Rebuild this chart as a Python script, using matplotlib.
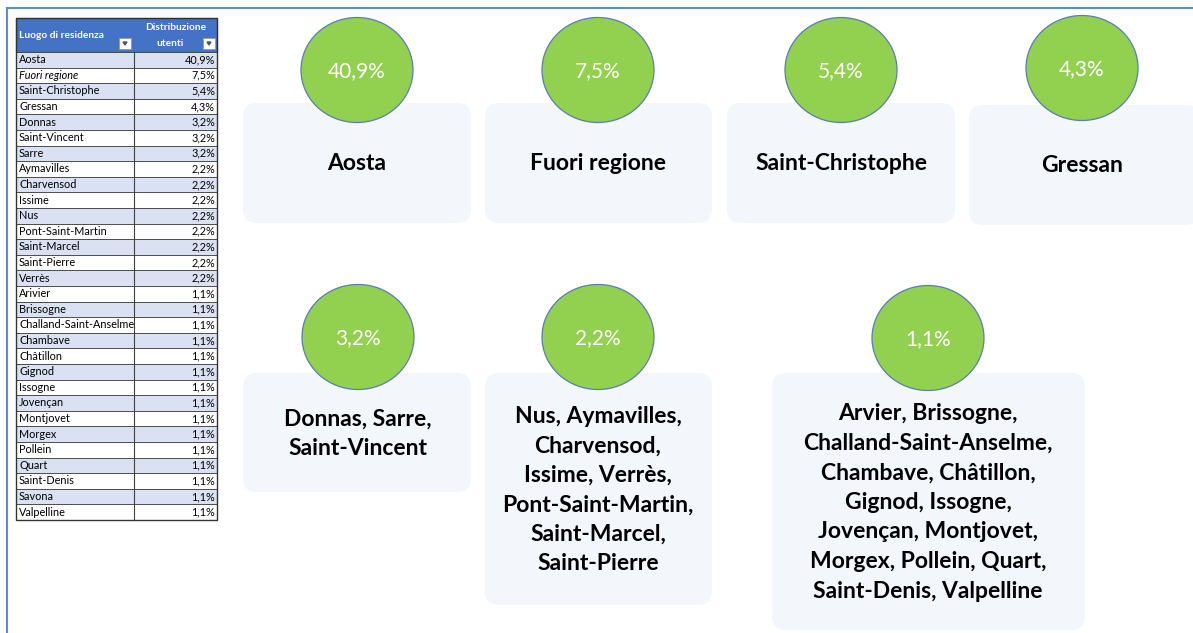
import matplotlib
matplotlib.use('Agg')
import matplotlib.pyplot as plt
from matplotlib.patches import FancyBboxPatch, Ellipse, Rectangle, Polygon

# tabella: luogo di residenza e distribuzione utenti (%)
luoghi = ['Aosta', 'Fuori regione', 'Saint-Christophe', 'Gressan', 'Donnas',
          'Saint-Vincent', 'Sarre', 'Aymavilles', 'Charvensod', 'Issime', 'Nus',
          'Pont-Saint-Martin', 'Saint-Marcel', 'Saint-Pierre', 'Verrès',
          'Arivier', 'Brissogne', 'Challand-Saint-Anselme', 'Chambave',
          'Châtillon', 'Gignod', 'Issogne', 'Jovençan', 'Montjovet', 'Morgex',
          'Pollein', 'Quart', 'Saint-Denis', 'Savona', 'Valpelline']
valori = [40.9, 7.5, 5.4, 4.3, 3.2, 3.2, 3.2, 2.2, 2.2, 2.2, 2.2, 2.2, 2.2,
          2.2, 2.2, 1.1, 1.1, 1.1, 1.1, 1.1, 1.1, 1.1, 1.1, 1.1, 1.1, 1.1,
          1.1, 1.1, 1.1, 1.1]

# schede riassuntive
gruppi = ['Aosta', 'Fuori regione', 'Saint-Christophe', 'Gressan',
          'Donnas, Sarre,\nSaint-Vincent',
          'Nus, Aymavilles,\nCharvensod,\nIssime, Verrès,\nPont-Saint-Martin,\nSaint-Marcel,\nSaint-Pierre',
          'Arvier, Brissogne,\nChalland-Saint-Anselme,\nChambave, Châtillon,\nGignod, Issogne,\nJovençan, Montjovet,\nMorgex, Pollein, Quart,\nSaint-Denis, Valpelline']
valori_gruppi = [40.9, 7.5, 5.4, 4.3, 3.2, 2.2, 1.1]

# layout delle schede (x0, x1, y0, y1) in pixel
schede = [(243, 471, 103, 223), (485, 712, 103, 223), (727, 955, 103, 223),
          (969, 1200, 105, 225), (243, 471, 373, 492), (485, 712, 373, 605),
          (772, 1085, 373, 630)]
centri_x = [357, 598, 841, 1082, 358, 598, 928]
cerchi_y = [70, 70, 70, 68, 337, 337, 338]

def pct(v):
    return f'{v:.1f}%'.replace('.', ',')

plt.rcParams['font.family'] = ['Lato', 'DejaVu Sans']

fig = plt.figure(figsize=(11.93, 6.33), dpi=100)
ax = fig.add_axes([0, 0, 1, 1])
ax.set_xlim(0, 1193)
ax.set_ylim(633, 0)
ax.axis('off')

# cornice esterna
ax.plot([7, 1193], [8, 8], color='#5B8BD0', lw=1.5)
ax.plot([7, 7], [8, 633], color='#5B8BD0', lw=1.5)

# ---- tabella ----
tx0, tx1, tcol = 16, 217, 134
hy0, hy1 = 18, 52
rh = 15.6
ax.add_patch(Rectangle((tx0, hy0), tx1 - tx0, hy1 - hy0, facecolor='#4472C4',
                       edgecolor='#333333', lw=0.8))
ax.text(19, 36, 'Luogo di residenza', color='white', fontsize=7.3, weight='bold',
        va='center', ha='left')
ax.text(176, 28, 'Distribuzione', color='white', fontsize=7.3, weight='bold',
        va='center', ha='center')
ax.text(170, 44, 'utenti', color='white', fontsize=7.3, weight='bold',
        va='center', ha='center')
for bx in (119, 203):
    ax.add_patch(Rectangle((bx, 38), 12, 11, facecolor='white',
                           edgecolor='#999999', lw=0.6))
    ax.add_patch(Polygon([(bx + 4, 42), (bx + 8, 42), (bx + 6, 45)],
                         closed=True, color='#555555'))

for i, (nome, v) in enumerate(zip(luoghi, valori)):
    y0 = hy1 + i * rh
    col = '#D9E1F2' if i % 2 == 0 else 'white'
    ax.add_patch(Rectangle((tx0, y0), tx1 - tx0, rh, facecolor=col,
                           edgecolor='#404040', lw=0.6))
    ax.text(19, y0 + rh / 2, nome, fontsize=7.8, va='center', ha='left',
            style='italic' if nome == 'Fuori regione' else 'normal')
    ax.text(215, y0 + rh / 2, pct(v), fontsize=7.8, va='center', ha='right')
ax.plot([tcol, tcol], [hy1, hy1 + len(luoghi) * rh], color='#404040', lw=0.8)
ax.add_patch(Rectangle((tx0, hy0), tx1 - tx0, hy1 + len(luoghi) * rh - hy0,
                       fill=False, edgecolor='#333333', lw=1.0))

# ---- schede ----
for (x0, x1, y0, y1), cx, cy, testo, v in zip(schede, centri_x, cerchi_y,
                                              gruppi, valori_gruppi):
    ax.add_patch(FancyBboxPatch((x0, y0), x1 - x0, y1 - y0,
                                boxstyle='round,pad=0,rounding_size=14',
                                facecolor='#F3F6FB', edgecolor='none'))
    ax.add_patch(Ellipse((cx, cy), 112, 105, facecolor='#92D050',
                         edgecolor='#5A7DB5', lw=0.9))
    ax.text(cx, cy + 1, pct(v), color='white', fontsize=15, ha='center',
            va='center')
    ax.text(cx, (y0 + y1) / 2 + 1, testo,
            fontsize=16.5, weight='bold', ha='center', va='center',
            linespacing=1.5, color='black')

fig.savefig('out.png', dpi=100)
